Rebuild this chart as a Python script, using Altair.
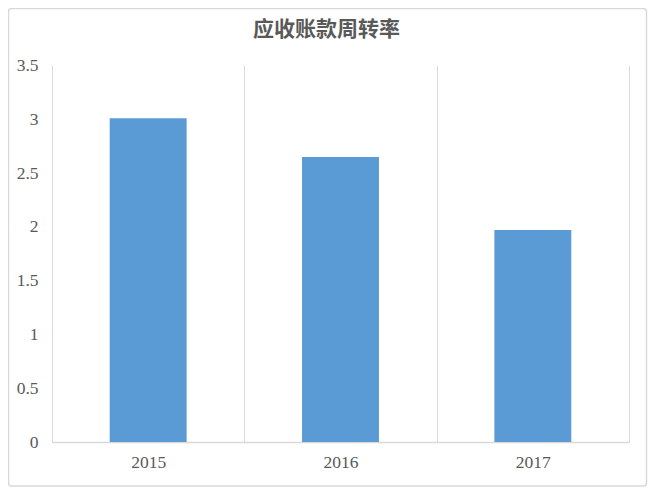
import altair as alt
import pandas as pd

years = ["2015", "2016", "2017"]
values = [3.01, 2.65, 1.97]
y_ticks = [0, 0.5, 1, 1.5, 2, 2.5, 3, 3.5]
title_text = "应收账款周转率"

df = pd.DataFrame({"year": years, "value": values})

W, H = 577, 376.5
GRID = "#d9d9d9"
TXT = "#595959"

bars = alt.Chart(df).mark_bar(color="#5b9bd5", width=alt.RelativeBandSize(0.4)).encode(
    x=alt.X("year:N", sort=years, title=None,
            scale=alt.Scale(paddingInner=0, paddingOuter=0),
            axis=alt.Axis(tickBand="extent", grid=True, gridColor=GRID, gridWidth=1,
                          ticks=False, domain=True, domainColor=GRID, domainWidth=1.5,
                          labelAngle=0, labelFont="Liberation Serif", labelFontSize=17.5,
                          labelColor=TXT, labelPadding=11)),
    y=alt.Y("value:Q", title=None,
            scale=alt.Scale(domain=[0, 3.5], nice=False),
            axis=alt.Axis(values=y_ticks, format=".1~f", grid=False, domain=False,
                          ticks=False, tickSize=0, labelPadding=14,
                          labelFont="Liberation Serif", labelFontSize=17.5,
                          labelColor=TXT)),
)

border = alt.Chart(alt.Data(values=[{}])).mark_rect(
    fill="white", fillOpacity=0, stroke=GRID, strokeWidth=1.5, cornerRadius=3
).encode(
    x=alt.value(-43.5), x2=alt.value(594.5), y=alt.value(-57), y2=alt.value(420.5)
)

chart = alt.layer(border, bars).properties(
    width=W, height=H,
    title=alt.Title(title_text, anchor="middle", dx=-14, offset=-32,
                    font="Noto Sans CJK SC", fontSize=21, fontWeight="bold", color=TXT),
    autosize=alt.AutoSizeParams(type="none"),
    padding={"left": 44, "top": 57.5, "right": 35, "bottom": 49},
).configure_view(strokeWidth=0)

chart.save("out.html", embed_options={"renderer": "svg", "actions": False})
